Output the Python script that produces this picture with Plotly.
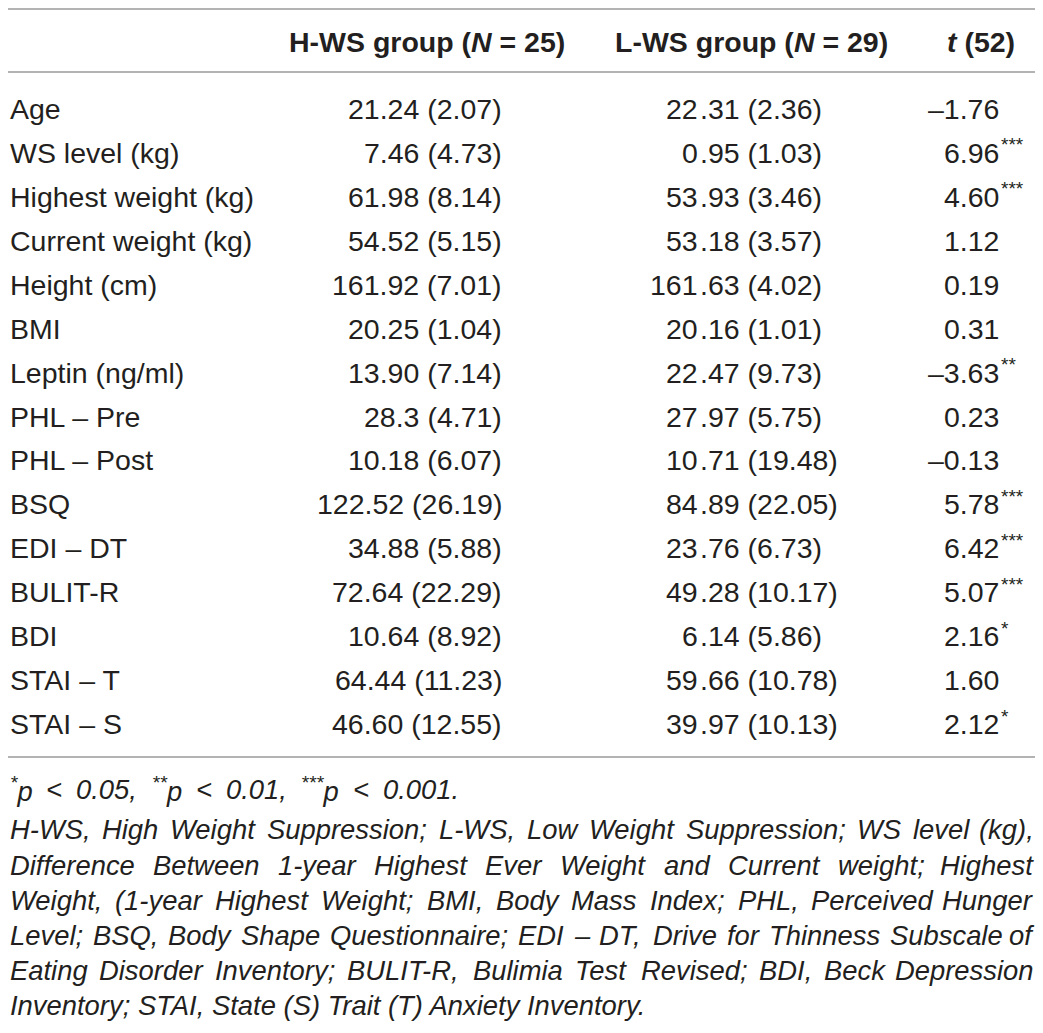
import plotly.graph_objects as go

# table content
variaveis = ["Age", "WS level (kg)", "Highest weight (kg)", "Current weight (kg)",
             "Height (cm)", "BMI", "Leptin (ng/ml)", "PHL – Pre", "PHL – Post",
             "BSQ", "EDI – DT", "BULIT-R", "BDI", "STAI – T", "STAI – S"]
hws_media = ["21.24", "7.46", "61.98", "54.52", "161.92", "20.25", "13.90", "28.3",
             "10.18", "122.52", "34.88", "72.64", "10.64", "64.44", "46.60"]
hws_dp = ["2.07", "4.73", "8.14", "5.15", "7.01", "1.04", "7.14", "4.71",
          "6.07", "26.19", "5.88", "22.29", "8.92", "11.23", "12.55"]
lws_media = ["22.31", "0.95", "53.93", "53.18", "161.63", "20.16", "22.47", "27.97",
             "10.71", "84.89", "23.76", "49.28", "6.14", "59.66", "39.97"]
lws_dp = ["2.36", "1.03", "3.46", "3.57", "4.02", "1.01", "9.73", "5.75",
          "19.48", "22.05", "6.73", "10.17", "5.86", "10.78", "10.13"]
t_valor = ["–1.76", "6.96", "4.60", "1.12", "0.19", "0.31", "–3.63", "0.23",
           "–0.13", "5.78", "6.42", "5.07", "2.16", "1.60", "2.12"]
t_sig = ["", "***", "***", "", "", "", "**", "", "", "***", "***", "***", "*", "", "*"]

cabecalho = ["H-WS group (<i>N</i> = 25)", "L-WS group (<i>N</i> = 29)", "<i>t</i> (52)"]

# significance note: (stars, text) pieces
nota_sig = [("*", "p"), ("", "&lt;"), ("", "0.05,"), ("**", "p"), ("", "&lt;"),
            ("", "0.01,"), ("***", "p"), ("", "&lt;"), ("", "0.001.")]

notas = [
    "H-WS, High Weight Suppression; L-WS, Low Weight Suppression; WS level (kg),",
    "Difference Between 1-year Highest Ever Weight and Current weight; Highest",
    "Weight, (1-year Highest Weight; BMI, Body Mass Index; PHL, Perceived Hunger",
    "Level; BSQ, Body Shape Questionnaire; EDI – DT, Drive for Thinness Subscale of",
    "Eating Disorder Inventory; BULIT-R, Bulimia Test Revised; BDI, Beck Depression",
    "Inventory; STAI, State (S) Trait (T) Anxiety Inventory.",
]

W, H = 1043, 1033
OFF = 8  # page body margin, nothing can be drawn left/above it
fonte = "Liberation Sans, Arial, sans-serif"
cor = "#231f20"
tam = 28.5
tam_nota = 27.4

# Arial / Liberation Sans advance widths (1/1000 em)
larg = {" ": 278, "(": 333, ")": 333, ",": 278, "-": 333, ".": 278, ";": 278,
        "<": 584, "*": 389, "–": 556}
larg.update({c: 556 for c in "0123456789"})
larg.update(dict(zip("ABCDEFGHIJKLMNOPQRSTUVWXYZ",
                     [667, 667, 722, 722, 667, 611, 778, 722, 278, 500, 667, 556, 833,
                      722, 778, 667, 778, 722, 667, 611, 722, 667, 944, 667, 667, 611])))
larg.update(dict(zip("abcdefghijklmnopqrstuvwxyz",
                     [556, 556, 500, 556, 556, 278, 556, 556, 222, 222, 500, 222, 833,
                      556, 556, 556, 556, 333, 500, 278, 556, 500, 722, 500, 500, 500])))


def largura(s, size):
    s = s.replace("&lt;", "<")
    return sum(larg.get(c, 556) for c in s) * size / 1000


fig = go.Figure()


def texto(x, y, s, anchor, size=tam, bold=False, italic=False, yshift=0):
    fig.add_annotation(x=x, y=y, xref="x", yref="y", text=s, showarrow=False,
                       xanchor=anchor, yanchor="middle", yshift=yshift,
                       borderpad=0,
                       font=dict(family=fonte, size=size, color=cor,
                                 weight="bold" if bold else "normal",
                                 style="italic" if italic else "normal"))


# header
y_cab = 42
texto(566, y_cab, cabecalho[0], "right", bold=True)
texto(889, y_cab, cabecalho[1], "right", bold=True)
texto(1016, y_cab, cabecalho[2], "right", bold=True)

# rows
x_esq = 8.5
y0, passo = 109, 43.93
for i, nome in enumerate(variaveis):
    y = y0 + i * passo
    texto(x_esq, y, nome, "left")
    texto(503, y, f"{hws_media[i]} ({hws_dp[i]})", "right")
    inteiro, dec = lws_media[i].split(".")
    texto(699, y, inteiro, "right")
    texto(699, y, f".{dec} ({lws_dp[i]})", "left")
    texto(1000, y, t_valor[i], "right")
    if t_sig[i]:
        texto(1000, y, t_sig[i], "left", size=19, yshift=8)

# significance footnote, spread to its printed width
pecas = []
for est, s in nota_sig:
    w = largura(s, tam_nota)
    if est:
        w += largura(est, tam_nota * 0.7)
        s = f"<sup>{est}</sup>{s}"
    pecas.append((s, w))
folga = (458 - x_esq - sum(w for _, w in pecas)) / (len(pecas) - 1)
x = x_esq
for s, w in pecas:
    texto(x, 789, s, "left", size=tam_nota, italic=True)
    x += w + folga

# abbreviation footnote, justified except last line
y_notas = [829, 865, 900, 935, 970, 1005]
x_dir = 1035
for k, (y, linha) in enumerate(zip(y_notas, notas)):
    if k == len(notas) - 1:
        texto(x_esq, y, linha, "left", size=tam_nota, italic=True)
        continue
    palavras = linha.split(" ")
    ws = [largura(p, tam_nota) for p in palavras]
    folga = (x_dir - x_esq - sum(ws)) / (len(palavras) - 1)
    x = x_esq
    for j, (p, w) in enumerate(zip(palavras, ws)):
        if j == len(palavras) - 1:
            texto(x_dir, y, p, "right", size=tam_nota, italic=True)
        else:
            texto(x, y, p, "left", size=tam_nota, italic=True)
        x += w + folga

# rules
for y in [9, 72, 757]:
    fig.add_shape(type="line", x0=OFF, x1=1037, y0=y, y1=y, xref="x", yref="y",
                  line=dict(color="#9a9a9a", width=1.6))

fig.update_xaxes(range=[OFF, W], visible=False, fixedrange=True)
fig.update_yaxes(range=[H, OFF], visible=False, fixedrange=True)
fig.update_layout(width=W - OFF, height=H - OFF, margin=dict(l=0, r=0, t=0, b=0),
                  plot_bgcolor="white", paper_bgcolor="white", showlegend=False)

fig.write_html("out.html")
